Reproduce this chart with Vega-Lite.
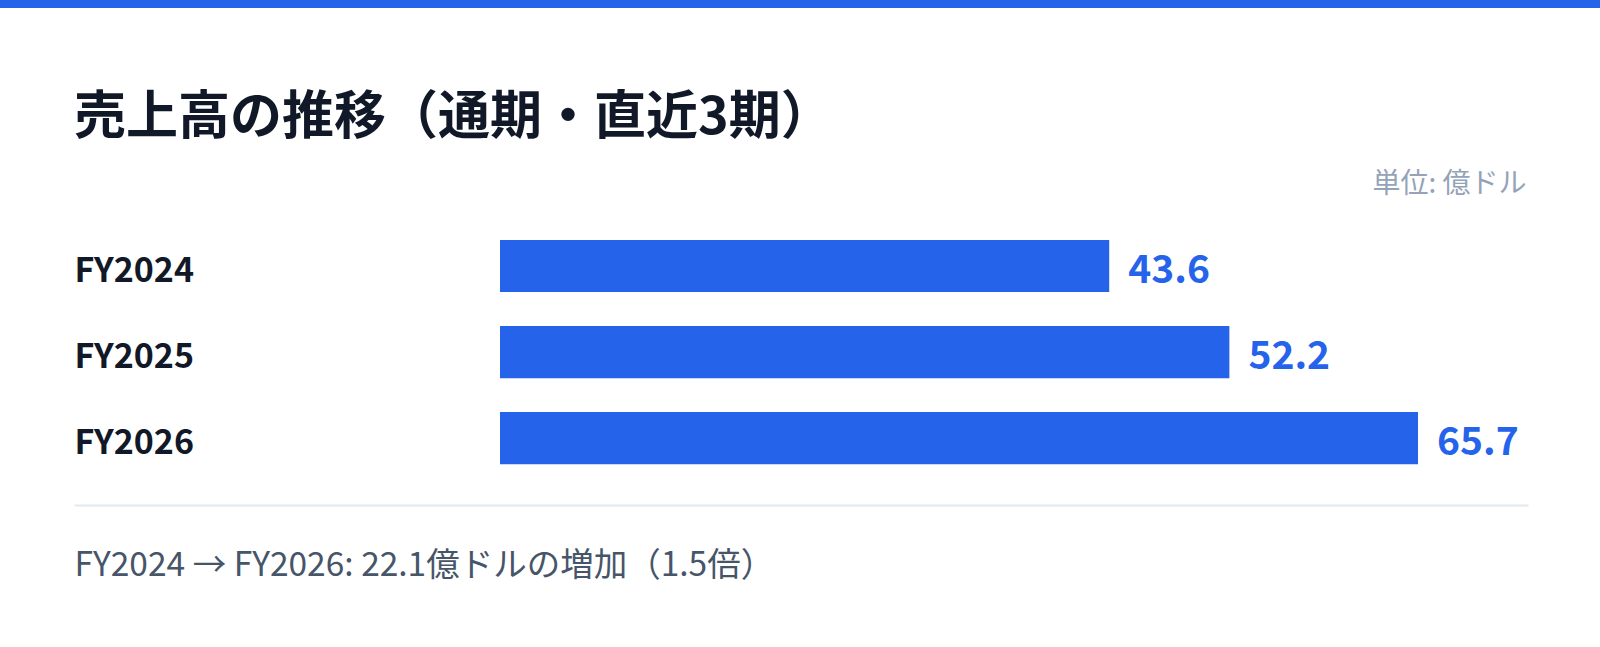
{
  "$schema": "https://vega.github.io/schema/vega-lite/v6.json",
  "padding": {"left": 0, "top": 0, "right": 0, "bottom": 148},
  "background": "#ffffff",
  "spacing": 197.6,
  "bounds": "flush",
  "config": {
    "view": {"stroke": null},
    "font": "Noto Sans CJK JP"
  },
  "vconcat": [
    {
      "width": 1600,
      "height": 8,
      "data": {"values": [{"band": "top"}]},
      "mark": {"type": "rect", "color": "#2563EB"},
      "encoding": {}
    },
    {
      "bounds": "flush",
      "spacing": 0,
      "hconcat": [
        {
          "width": 74,
          "height": 1,
          "data": {"values": [{"band": "margin"}]},
          "mark": {"type": "rect", "color": "#ffffff", "opacity": 0},
          "encoding": {}
        },
        {
          "width": 1454,
          "height": 293,
          "title": {
            "text": "売上高の推移（通期・直近3期）",
            "anchor": "start",
            "frame": "group",
            "font": "Noto Sans CJK JP",
            "fontSize": 52,
            "fontWeight": "bold",
            "color": "#111827",
            "baseline": "alphabetic",
            "offset": -15
          },
          "data": {
            "values": [
              {"fy": "FY2024", "value": 43.6},
              {"fy": "FY2025", "value": 52.2},
              {"fy": "FY2026", "value": 65.7}
            ]
          },
          "encoding": {
            "y": {
              "field": "fy",
              "type": "nominal",
              "sort": null,
              "scale": {"paddingInner": 0.395, "paddingOuter": 0.4},
              "axis": {
                "orient": "left",
                "domain": false,
                "ticks": false,
                "tickSize": 0,
                "grid": false,
                "labelAlign": "left",
                "labelBaseline": "middle",
                "labelPadding": 0,
                "labelOffset": 5.5,
                "labelFont": "Noto Sans CJK JP",
                "labelFontSize": 34,
                "labelFontWeight": "bold",
                "labelColor": "#111827",
                "labelLimit": 400,
                "title": "単位: 億ドル",
                "titleAngle": 0,
                "titleAlign": "right",
                "titleBaseline": "middle",
                "titleX": 1452,
                "titleY": -21,
                "titleFont": "Noto Sans CJK JP",
                "titleFontSize": 28,
                "titleFontWeight": "normal",
                "titleColor": "#94a3b8",
                "titleLimit": 1000
              }
            },
            "x": {
              "field": "value",
              "type": "quantitative",
              "scale": {"domain": [-30.488, 73.572], "nice": false, "zero": false},
              "axis": {
                "orient": "bottom",
                "offset": 6.5,
                "domain": true,
                "domainColor": "#e2e8f0",
                "domainWidth": 2,
                "ticks": false,
                "labels": false,
                "grid": false,
                "title": "FY2024 → FY2026: 22.1億ドルの増加（1.5倍）",
                "titleX": 0,
                "titleY": 70,
                "titleAlign": "left",
                "titleBaseline": "alphabetic",
                "titleFont": "Noto Sans CJK JP",
                "titleFontSize": 33.5,
                "titleFontWeight": "normal",
                "titleColor": "#475569",
                "titleLimit": 2000
              }
            }
          },
          "layer": [
            {
              "mark": {"type": "bar", "color": "#2563EB"}
            },
            {
              "mark": {
                "type": "text",
                "align": "left",
                "baseline": "middle",
                "dx": 19,
                "dy": 5,
                "font": "Noto Sans CJK JP",
                "fontSize": 39,
                "fontWeight": "bold",
                "color": "#2563EB"
              },
              "encoding": {
                "text": {"field": "value", "type": "quantitative", "format": ".1f"}
              }
            }
          ]
        }
      ]
    }
  ]
}
